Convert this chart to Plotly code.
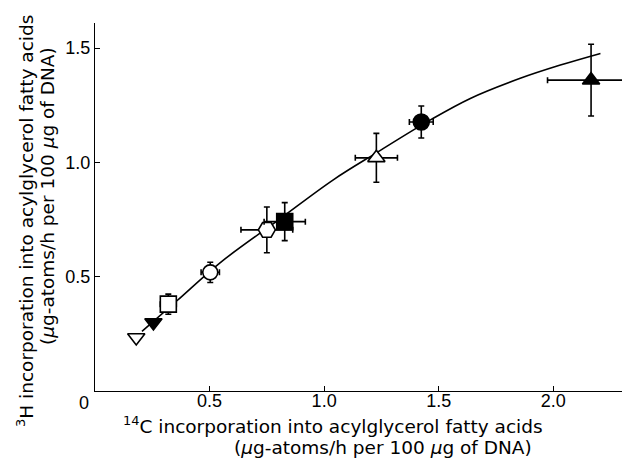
import plotly.graph_objects as go

# Data
c14_x = [0.18, 0.255, 0.32, 0.503, 0.75, 0.828, 1.228, 1.424, 2.165]
h3_y = [0.234, 0.30, 0.38, 0.519, 0.705, 0.741, 1.02, 1.177, 1.36]
x_err = [0.0, 0.0, 0.035, 0.04, 0.113, 0.09, 0.092, 0.052, 0.19]
y_err = [0.0, 0.0, 0.044, 0.044, 0.10, 0.083, 0.107, 0.07, 0.157]

curve_x = [0.205, 0.36, 0.547, 0.80, 1.04, 1.228, 1.464, 1.638, 1.856, 2.031, 2.206]
curve_y = [0.261, 0.397, 0.562, 0.748, 0.924, 1.042, 1.186, 1.280, 1.368, 1.426, 1.477]

x_ticks = [0.5, 1.0, 1.5, 2.0]
x_tick_labels = ["0.5", "1.0", "1.5", "2.0"]
y_ticks = [0.5, 1.0, 1.5]
y_tick_labels = ["0.5", "1.0", "1.5"]

x_title = ["<sup>14</sup>C incorporation into acylglycerol fatty acids",
           "(<i>µ</i>g-atoms/h per 100 <i>µ</i>g of DNA)"]
y_title = ["<sup>3</sup>H incorporation into acylglycerol fatty acids",
           "(<i>µ</i>g-atoms/h per 100 <i>µ</i>g of DNA)"]

# styles
symbols = ["triangle-down", "triangle-down", "square", "circle", "hexagon2",
           "square", "triangle-up", "circle", "triangle-up"]
fills = ["white", "black", "white", "white", "white", "black", "white", "black", "black"]
sizes = [15, 15, 16, 15, 17, 16, 15, 16, 15]

TICKFONT = "Liberation Sans, Arial, Helvetica, sans-serif"
TITLEFONT = "DejaVu Sans, Liberation Sans, Arial, sans-serif"

W, H = 625, 459
l, r, t, b = 95, 3, 23, 68
pw, ph = W - l - r, H - t - b


def px2paper(px, py):
    return (px - l) / pw, (H - b - py) / ph


fig = go.Figure()
fig.add_trace(go.Scatter(x=curve_x, y=curve_y, mode="lines", line_shape="spline",
                         line=dict(color="black", width=1.6), showlegend=False,
                         hoverinfo="skip"))
for i in range(len(c14_x)):
    fig.add_trace(go.Scatter(
        x=[c14_x[i]], y=[h3_y[i]], mode="markers", showlegend=False,
        marker=dict(symbol=symbols[i], size=sizes[i], color=fills[i],
                    line=dict(color="black", width=1.6)),
        error_x=dict(type="data", array=[x_err[i]], visible=x_err[i] > 0,
                     color="black", thickness=1.6, width=3),
        error_y=dict(type="data", array=[y_err[i]], visible=y_err[i] > 0,
                     color="black", thickness=1.6, width=3),
        cliponaxis=False,
    ))

annotations = [
    dict(x=0, y=0, xref="x", yref="y", text="0", showarrow=False,
         xshift=-11, yshift=-12, font=dict(size=18, family=TICKFONT)),
]
for text, (px, py), ang in [
    (x_title[0], (333, 425), 0),
    (x_title[1], (383, 447), 0),
    (y_title[0], (25, 221), -90),
    (y_title[1], (47, 196), -90),
]:
    ax, ay = px2paper(px, py)
    annotations.append(dict(x=ax, y=ay, xref="paper", yref="paper", text=text,
                            showarrow=False, textangle=ang, xanchor="center",
                            yanchor="middle",
                            font=dict(size=18.5, family=TITLEFONT)))

fig.update_layout(
    width=W, height=H,
    margin=dict(l=l, r=r, t=t, b=b),
    plot_bgcolor="white", paper_bgcolor="white",
    font=dict(family=TICKFONT, color="black", size=17),
    xaxis=dict(range=[0, 2.30], tickvals=x_ticks, ticktext=x_tick_labels,
               ticks="inside", ticklen=5, tickwidth=1.2, tickcolor="black",
               ticklabelstandoff=-7,
               showline=True, linecolor="black", linewidth=1.2,
               showgrid=False, zeroline=False, tickfont=dict(size=18)),
    yaxis=dict(range=[0, 1.61], tickvals=y_ticks, ticktext=y_tick_labels,
               ticks="inside", ticklen=5, tickwidth=1.2, tickcolor="black",
               showline=True, linecolor="black", linewidth=1.2,
               showgrid=False, zeroline=False, tickfont=dict(size=18)),
    annotations=annotations,
)

fig.write_html("out.html")
